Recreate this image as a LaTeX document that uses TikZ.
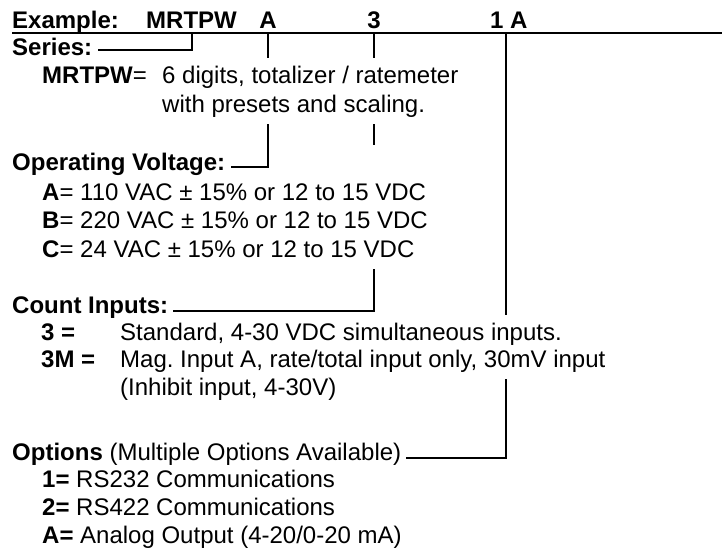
\documentclass[tikz,border=0pt]{standalone}
\usepackage{fontspec}
\setmainfont{Liberation Sans}
\newcommand{\bodyfont}{\fontsize{24}{28.5}\selectfont}
\tikzset{
  txt/.style={anchor=base west, inner xsep=0pt, inner ysep=7pt,
    text height=17.5pt, text depth=5pt, font=\bodyfont},
  hd/.style={txt, font=\bodyfont\bfseries},
  leader/.style={line width=2pt},
}
\begin{document}
\begin{tikzpicture}[x=1pt,y=-1pt]
\useasboundingbox (0,0) rectangle (722,550);
% model number
\node[hd] (ex) at (12,28) {Example:};
\node[hd] (code) at (146,28) {MRTPW};
\node[hd,anchor=base] (codeA) at (268,28) {A};
\node[hd,anchor=base] (code3) at (374,28) {3};
\node[hd] (code1A) at (490,28) {1 A};
\coordinate (rw) at (12,33);
\coordinate (re) at (722,33);
\coordinate (tS) at (192,33);
\coordinate (tA) at (268,33);
\coordinate (t3) at (374,33);
\coordinate (t1A) at (506,33);
\draw[leader] (rw) -- (re);

% series
\node[hd] (series) at (12,55) {Series:};
\node[txt] (serkey) at (42,83) {\textbf{MRTPW}=};
\node[txt] (ser1) at (162,83) {6 digits, totalizer / ratemeter};
\node[txt] (ser2) at (162,112) {with presets and scaling.};

% voltage
\node[hd] (volt) at (12,170) {Operating Voltage:};
\node[txt] (voltA) at (42,200) {\textbf{A}= 110 VAC ± 15\% or 12 to 15 VDC};
\node[txt] (voltB) at (42,228) {\textbf{B}= 220 VAC ± 15\% or 12 to 15 VDC};
\node[txt] (voltC) at (42,257) {\textbf{C}= 24 VAC ± 15\% or 12 to 15 VDC};

% count inputs
\node[hd] (count) at (12,313) {Count Inputs:};
\node[hd] (cntkey1) at (41,340) {3 =};
\node[txt] (cnt1) at (120,340) {Standard, 4-30 VDC simultaneous inputs.};
\node[hd] (cntkey2) at (41,367) {3M =};
\node[txt] (cnt2) at (120,367) {Mag.\ Input A, rate/total input only, 30mV input};
\node[txt] (cnt3) at (120,395) {(Inhibit input, 4-30V)};

% options
\node[txt] (opts) at (12,460) {\textbf{Options} (Multiple Options Available)};
\node[txt] (opt1) at (42,487) {\textbf{1=} RS232 Communications};
\node[txt] (opt2) at (42,515) {\textbf{2=} RS422 Communications};
\node[txt] (opt3) at (42,543) {\textbf{A=} Analog Output (4-20/0-20 mA)};

% leaders
\draw[leader] (tS) |- ([xshift=6pt,yshift=5pt]series.base east);
\draw[leader] (tA) -- (tA |- ser1.north);
\draw[leader] (tA |- ser2.south) |- ([xshift=6pt,yshift=3pt]volt.base east);
\draw[leader] (t3) -- (t3 |- ser1.north);
\draw[leader] (t3 |- ser2.south) -- (t3 |- volt.north);
\draw[leader] (t3 |- voltC.south) |- ([xshift=5pt,yshift=2pt]count.base east);
\draw[leader] (t1A) -- (t1A |- cnt1.north);
\draw[leader] (t1A |- cnt2.south) |- ([xshift=5pt,yshift=2pt]opts.base east);
\end{tikzpicture}
\end{document}
